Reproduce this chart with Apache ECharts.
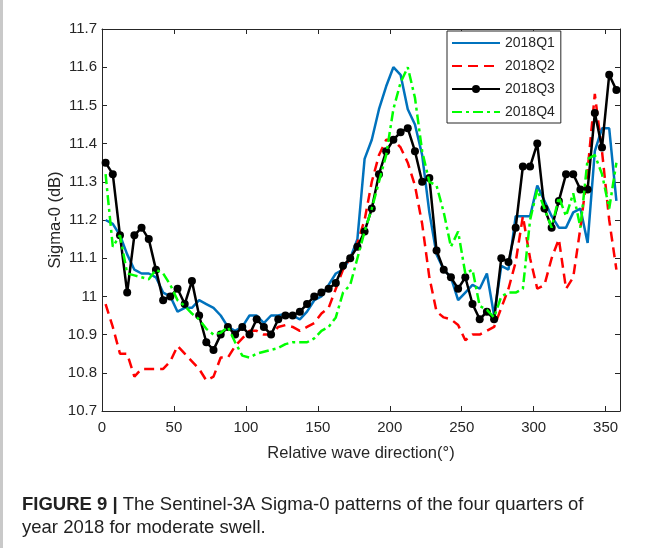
<!DOCTYPE html>
<html>
<head>
<meta charset="utf-8">
<script src="https://cdn.jsdelivr.net/npm/echarts@6/dist/echarts.min.js"></script>
<style>
html,body{margin:0;padding:0;background:#fff;}
#chart{width:646px;height:548px;}
</style>
</head>
<body>
<div id="chart"></div>
<script>
const directions = [
  2.5, 7.5, 12.5, 17.5, 22.5, 27.5, 32.5, 37.5, 42.5, 47.5, 52.5, 57.5,
  62.5, 67.5, 72.5, 77.5, 82.5, 87.5, 92.5, 97.5, 102.5, 107.5, 112.5, 117.5,
  122.5, 127.5, 132.5, 137.5, 142.5, 147.5, 152.5, 157.5, 162.5, 167.5, 172.5, 177.5,
  182.5, 187.5, 192.5, 197.5, 202.5, 207.5, 212.5, 217.5, 222.5, 227.5, 232.5, 237.5,
  242.5, 247.5, 252.5, 257.5, 262.5, 267.5, 272.5, 277.5, 282.5, 287.5, 292.5, 297.5,
  302.5, 307.5, 312.5, 317.5, 322.5, 327.5, 332.5, 337.5, 342.5, 347.5, 352.5, 357.5
];
const q1 = [
  11.20,11.19,11.16,11.11,11.07,11.06,11.06,11.05,11.01,11.00,10.96,10.97,
  10.97,10.99,10.98,10.97,10.95,10.92,10.91,10.92,10.95,10.95,10.93,10.95,
  10.95,10.955,10.95,10.94,10.96,10.99,11.00,11.03,11.06,11.07,11.10,11.15,
  11.36,11.41,11.49,11.55,11.60,11.58,11.49,11.45,11.37,11.22,11.11,11.07,
  11.05,10.99,11.01,11.03,11.02,11.06,10.95,11.08,11.07,11.21,11.21,11.21,
  11.29,11.25,11.21,11.18,11.18,11.22,11.23,11.14,11.38,11.44,11.44,11.25
];
const q2 = [
  10.98,10.92,10.85,10.85,10.79,10.81,10.81,10.81,10.81,10.83,10.87,10.85,
  10.83,10.81,10.78,10.79,10.84,10.84,10.87,10.89,10.91,10.91,10.90,10.90,
  10.92,10.925,10.92,10.91,10.92,10.93,10.955,10.97,11.02,11.07,11.10,11.14,
  11.20,11.30,11.37,11.41,11.41,11.39,11.35,11.29,11.19,11.05,10.96,10.945,
  10.94,10.925,10.885,10.90,10.90,10.91,10.92,10.97,11.02,11.09,11.21,11.10,
  11.02,11.03,11.10,11.15,11.02,11.05,11.18,11.33,11.53,11.38,11.20,11.07
];
const q3 = [
  11.35,11.32,11.16,11.01,11.16,11.18,11.15,11.07,10.99,11.00,11.02,10.98,
  11.04,10.95,10.88,10.86,10.90,10.92,10.90,10.92,10.90,10.94,10.92,10.90,
  10.94,10.95,10.95,10.96,10.98,11.00,11.01,11.02,11.035,11.08,11.10,11.13,
  11.17,11.23,11.32,11.38,11.41,11.43,11.44,11.38,11.30,11.31,11.12,11.07,
  11.05,11.02,11.05,10.98,10.94,10.96,10.94,11.10,11.09,11.18,11.34,11.34,
  11.40,11.23,11.18,11.25,11.32,11.32,11.28,11.28,11.48,11.39,11.58,11.54
];
const q4 = [
  11.32,11.13,11.16,11.06,11.055,11.05,11.045,11.07,11.06,11.03,10.99,10.975,
  10.955,10.94,10.915,10.90,10.905,10.92,10.88,10.845,10.84,10.85,10.855,10.86,
  10.865,10.875,10.88,10.88,10.88,10.89,10.91,10.92,10.945,11.01,11.03,11.10,
  11.17,11.23,11.30,11.37,11.49,11.56,11.60,11.52,11.38,11.30,11.29,11.22,
  11.13,11.17,11.06,11.07,10.975,10.965,10.945,11.00,11.01,11.01,11.02,11.20,
  11.28,11.23,11.18,11.26,11.21,11.27,11.18,11.36,11.37,11.32,11.23,11.35
];
const seriesNames = ['2018Q1', '2018Q2', '2018Q3', '2018Q4'];
const xTicks = [0, 50, 100, 150, 200, 250, 300, 350];
const yTicks = [10.7, 10.8, 10.9, 11, 11.1, 11.2, 11.3, 11.4, 11.5, 11.6, 11.7];
const xTitle = 'Relative wave direction(°)';
const yTitle = 'Sigma-0 (dB)';
const captionBold = 'FIGURE 9 |';
const captionLine1 = ' The Sentinel-3A Sigma-0 patterns of the four quarters of';
const captionLine2 = 'year 2018 for moderate swell.';

const FONT = 'Liberation Sans, Arial, Helvetica, sans-serif';
const AX = '#262626';
const pair = (vals) => directions.map((d, i) => [d, vals[i]]);

const chart = echarts.init(document.getElementById('chart'), null, {renderer: 'canvas'});

const xAxisBase = {
  type: 'value', min: 0, max: 360, interval: 50,
  axisLine: {show: true, onZero: false, lineStyle: {color: AX, width: 1}},
  axisTick: {show: true, inside: true, length: 5, lineStyle: {color: AX}},
  splitLine: {show: false}
};
const yAxisBase = {
  type: 'value', min: 10.7, max: 11.7, interval: 0.1,
  axisLine: {show: true, onZero: false, lineStyle: {color: AX, width: 1}},
  axisTick: {show: true, inside: true, length: 5, lineStyle: {color: AX}},
  splitLine: {show: false}
};

chart.setOption({
  animation: false,
  backgroundColor: '#ffffff',
  grid: {left: 102, top: 29, right: 26, bottom: 137, containLabel: false},
  xAxis: [
    Object.assign({}, xAxisBase, {
      position: 'bottom',
      name: xTitle, nameLocation: 'middle', nameGap: 34,
      nameTextStyle: {color: AX, fontSize: 16.5, fontFamily: FONT},
      axisLabel: {color: AX, fontSize: 15, fontFamily: FONT, margin: 9,
        formatter: v => xTicks.indexOf(v) >= 0 ? String(v) : ''}
    }),
    Object.assign({}, xAxisBase, {position: 'top', axisLabel: {show: false}})
  ],
  yAxis: [
    Object.assign({}, yAxisBase, {
      position: 'left',
      name: yTitle, nameLocation: 'middle', nameGap: 38, nameMoveOverlap: false,
      nameTextStyle: {color: AX, fontSize: 16.5, fontFamily: FONT},
      axisLabel: {color: AX, fontSize: 15, fontFamily: FONT, margin: 5,
        formatter: v => {
          const r = Math.round(v * 10) / 10;
          return yTicks.some(t => Math.abs(t - r) < 1e-6) ? String(r) : '';
        }}
    }),
    Object.assign({}, yAxisBase, {position: 'right', axisLabel: {show: false}})
  ],
  legend: {
    orient: 'vertical', left: 447, top: 31,
    backgroundColor: '#ffffff', borderColor: AX, borderWidth: 1, borderRadius: 0,
    padding: [5, 6, 4, 4], itemWidth: 48, itemHeight: 10, itemGap: 9,
    textStyle: {color: AX, fontSize: 14, fontFamily: FONT},
    data: [
      {name: seriesNames[0], itemStyle: {opacity: 0}},
      {name: seriesNames[1], itemStyle: {opacity: 0}},
      {name: seriesNames[2]},
      {name: seriesNames[3], itemStyle: {opacity: 0}}
    ]
  },
  series: [
    {name: seriesNames[0], type: 'line', data: pair(q1), symbol: 'none',
      lineStyle: {color: '#0072BD', width: 2.5}, itemStyle: {color: '#0072BD'}, z: 2},
    {name: seriesNames[1], type: 'line', data: pair(q2), symbol: 'none',
      lineStyle: {color: '#FF0000', width: 2.5, type: [10, 6]}, itemStyle: {color: '#FF0000'}, z: 3},
    {name: seriesNames[2], type: 'line', data: pair(q3), symbol: 'circle', symbolSize: 8,
      lineStyle: {color: '#000000', width: 2.5}, itemStyle: {color: '#000000'}, z: 4},
    {name: seriesNames[3], type: 'line', data: pair(q4), symbol: 'none',
      lineStyle: {color: '#00FF00', width: 2.5, type: [10, 4, 3, 4]}, itemStyle: {color: '#00FF00'}, z: 5}
  ],
  graphic: [
    {type: 'rect', left: 0, top: 0, shape: {x: 0, y: 0, width: 3, height: 548},
      style: {fill: '#c9c9c9'}, silent: true},
    {type: 'text', left: 22, top: 495,
      style: {text: '{b|' + captionBold + '}' + captionLine1, font: '18.5px ' + FONT, fill: '#222',
        rich: {b: {fontWeight: 'bold', fontSize: 18.5, fontFamily: FONT, fill: '#222'}}}},
    {type: 'text', left: 22, top: 518,
      style: {text: captionLine2, font: '18.5px ' + FONT, fill: '#222'}}
  ]
});
</script>
</body>
</html>
